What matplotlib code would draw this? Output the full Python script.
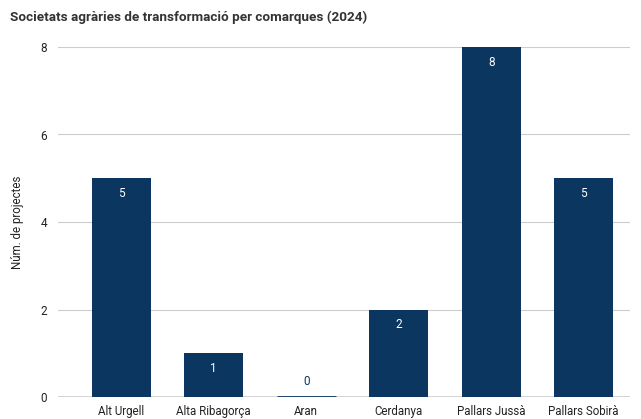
import matplotlib.pyplot as plt
import numpy as np

plt.rcParams['font.family'] = ['Roboto', 'DejaVu Sans']

# dades
comarques = ['Alt Urgell', 'Alta Ribagorça', 'Aran', 'Cerdanya', 'Pallars Jussà', 'Pallars Sobirà']
projectes = [5, 1, 0, 2, 8, 5]
yticks = [0, 2, 4, 6, 8]

navy = '#0b3660'

fig = plt.figure(figsize=(6.41, 4.19), dpi=100)
ax = fig.add_axes([58 / 641, 1 - 397 / 419, (630 - 58) / 641, (397 - 47) / 419])

x = np.arange(len(comarques))
bars = ax.bar(x, projectes, width=0.64, color=navy, zorder=3, clip_on=False)

# valors sobre les barres
for xi, v in zip(x, projectes):
    if v == 0:
        ax.plot([xi - 0.32, xi + 0.32], [0, 0], color=navy, lw=2, zorder=4, solid_capstyle='butt')
        ax.text(xi, 0.35, str(v), ha='center', va='center', color=navy, fontsize=8.5)
    else:
        ax.text(xi, v - 0.35, str(v), ha='center', va='center', color='white', fontsize=8.5, zorder=5)

ax.set_xlim(-0.5 - 17 / 92.5, 5.5)
ax.set_ylim(0, 8)
ax.set_xticks(x)
ax.set_xticklabels(comarques, fontsize=8.3, color='#222222')
ax.set_yticks(yticks)
ax.set_yticklabels([str(t) for t in yticks], fontsize=8.5, color='#222222')
ax.tick_params(axis='both', length=0, pad=6)
ax.tick_params(axis='y', pad=8)

ax.grid(axis='y', color='#cccccc', lw=0.8, zorder=0)
ax.axhline(0, color='#333333', lw=1, zorder=2)
for s in ax.spines.values():
    s.set_visible(False)

ax.set_ylabel('Núm. de projectes', fontsize=8.3, color='#222222', labelpad=12)
fig.text(10 / 641, 1 - 17 / 419, 'Societats agràries de transformació per comarques (2024)',
         fontsize=9.7, fontweight='bold', color='#333333', va='center', ha='left')

fig.savefig('out.png', dpi=100)
